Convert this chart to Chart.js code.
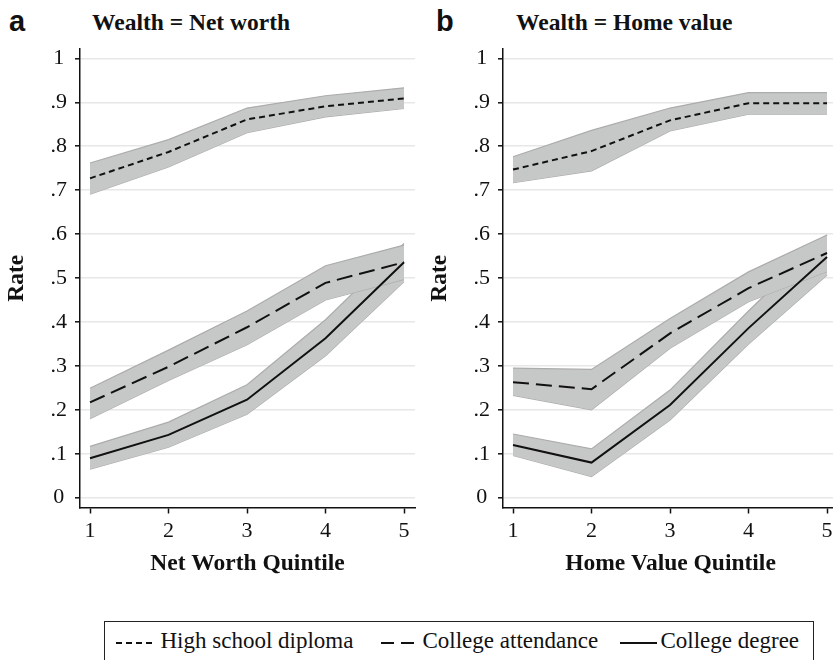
<!DOCTYPE html>
<html>
<head>
<meta charset="utf-8">
<script src="https://cdn.jsdelivr.net/npm/chart.js@4.4.1/dist/chart.umd.min.js"></script>
<style>
  html, body { margin: 0; padding: 0; background: #fff; }
  body { position: relative; width: 833px; height: 660px; overflow: hidden; }
  .tag { position: absolute; top: 7px; font: bold 29px/29px "Liberation Sans", Arial, sans-serif; color: #111; }
  .ttl { position: absolute; top: 11px; font: bold 23.5px/23.5px "Liberation Serif", "Times New Roman", serif; color: #111; white-space: nowrap; }
  canvas { position: absolute; top: 0; }
  .legend { position: absolute; left: 104px; top: 621px; width: 710px; height: 70px; border: 1.5px solid #222; box-sizing: border-box; }
  .legend svg { position: absolute; display: block; }
  .item { position: absolute; top: 0; font: 23px/23px "Liberation Serif", "Times New Roman", serif; color: #111; white-space: nowrap; }
</style>
</head>
<body>
<div class="tag" style="left:9px">a</div>
<div class="ttl" style="left:92px">Wealth = Net worth</div>
<div class="tag" style="left:436px">b</div>
<div class="ttl" style="left:516px">Wealth = Home value</div>

<canvas id="panelA" width="420" height="600" style="left:0px"></canvas>
<canvas id="panelB" width="420" height="600" style="left:423px"></canvas>

<div class="legend" id="legend"></div>

<script>
// Wealth quintiles on the horizontal axis
const quintiles = [1, 2, 3, 4, 5];
const yTickValues = [0, 0.1, 0.2, 0.3, 0.4, 0.5, 0.6, 0.7, 0.8, 0.9, 1];
const yTickLabels = ['0', '.1', '.2', '.3', '.4', '.5', '.6', '.7', '.8', '.9', '1'];
const seriesNames = ['High school diploma', 'College attendance', 'College degree'];

// Panel a: wealth measured as net worth (point estimate, lower and upper bound)
const nwHighSchool   = [0.727, 0.787, 0.861, 0.891, 0.909];
const nwHighSchoolLo = [0.691, 0.753, 0.831, 0.867, 0.886];
const nwHighSchoolHi = [0.762, 0.815, 0.887, 0.915, 0.933];
const nwAttend       = [0.217, 0.298, 0.388, 0.489, 0.536];
const nwAttendLo     = [0.180, 0.267, 0.348, 0.450, 0.497];
const nwAttendHi     = [0.249, 0.336, 0.425, 0.528, 0.575];
const nwDegree       = [0.090, 0.143, 0.223, 0.363, 0.536];
const nwDegreeLo     = [0.065, 0.115, 0.190, 0.323, 0.492];
const nwDegreeHi     = [0.117, 0.172, 0.257, 0.405, 0.579];

// Panel b: wealth measured as home value
const hvHighSchool   = [0.747, 0.789, 0.859, 0.898, 0.898];
const hvHighSchoolLo = [0.717, 0.744, 0.835, 0.873, 0.873];
const hvHighSchoolHi = [0.776, 0.836, 0.887, 0.922, 0.922];
const hvAttend       = [0.263, 0.247, 0.374, 0.477, 0.557];
const hvAttendLo     = [0.233, 0.200, 0.340, 0.446, 0.515];
const hvAttendHi     = [0.295, 0.292, 0.408, 0.514, 0.598];
const hvDegree       = [0.120, 0.080, 0.211, 0.386, 0.548];
const hvDegreeLo     = [0.096, 0.048, 0.177, 0.350, 0.507];
const hvDegreeHi     = [0.145, 0.111, 0.245, 0.425, 0.598];

const SERIF = '"Liberation Serif", "Times New Roman", serif';
const BAND_FILL = 'rgb(198,199,199)';
const BAND_EDGE = 'rgb(172,172,172)';
const INK = '#111';
const DASHES = [[6, 4], [16, 7], []];

const pts = (vals) => vals.map((v, i) => ({ x: quintiles[i], y: v }));

function bandPair(hi, lo) {
  return [
    { data: pts(hi), fill: '+1', backgroundColor: BAND_FILL, borderColor: BAND_EDGE,
      borderWidth: 1.2, pointRadius: 0, tension: 0, order: 5 },
    { data: pts(lo), fill: false, backgroundColor: BAND_FILL, borderColor: BAND_EDGE,
      borderWidth: 1.2, pointRadius: 0, tension: 0, order: 5 }
  ];
}

function estimateLine(vals, k) {
  return { label: seriesNames[k], data: pts(vals), fill: false, borderColor: INK,
           borderWidth: 2, borderDash: DASHES[k], pointRadius: 0, tension: 0, order: 0 };
}

function makePanel(id, xTitle, s) {
  const datasets = [
    ...bandPair(s.hsHi, s.hsLo),
    ...bandPair(s.atHi, s.atLo),
    ...bandPair(s.dgHi, s.dgLo),
    estimateLine(s.hs, 0),
    estimateLine(s.at, 1),
    estimateLine(s.dg, 2)
  ];
  return new Chart(document.getElementById(id), {
    type: 'line',
    data: { datasets },
    options: {
      responsive: false,
      animation: false,
      devicePixelRatio: 1,
      layout: { padding: { top: 49, right: 5, bottom: 0, left: 0 } },
      plugins: { legend: { display: false }, tooltip: { enabled: false } },
      scales: {
        x: {
          type: 'linear',
          min: 0.8726,
          max: 5.14,
          afterFit: (sc) => { sc.height = 92.5; },
          afterBuildTicks: (sc) => { sc.ticks = quintiles.map(v => ({ value: v })); },
          border: { display: true, color: INK, width: 1.5 },
          grid: { drawOnChartArea: false, drawTicks: true, tickLength: 6, tickColor: INK, tickWidth: 1.5 },
          ticks: { color: INK, font: { family: SERIF, size: 22 }, padding: 5,
                   maxRotation: 0, callback: (v) => String(v) },
          title: { display: true, text: xTitle, color: INK,
                   font: { family: SERIF, size: 23.5, weight: 'bold' },
                   padding: { top: 0, bottom: 22 } }
        },
        y: {
          type: 'linear',
          min: -0.0223,
          max: 1.0214,
          afterFit: (sc) => { sc.width = 80; },
          afterBuildTicks: (sc) => { sc.ticks = yTickValues.map(v => ({ value: v })); },
          border: { display: true, color: INK, width: 1.5 },
          grid: { color: '#e7e7e7', lineWidth: 1.6, drawTicks: true, tickLength: 5,
                  tickColor: INK, tickWidth: 1.5 },
          ticks: { color: INK, font: { family: SERIF, size: 22 }, padding: 8, crossAlign: 'center',
                   callback: (v, i) => yTickLabels[i] },
          title: { display: true, text: 'Rate', color: INK,
                   font: { family: SERIF, size: 23.5, weight: 'bold' },
                   padding: { top: 2.6, bottom: 0 } }
        }
      }
    }
  });
}

makePanel('panelA', 'Net Worth Quintile', {
  hs: nwHighSchool, hsLo: nwHighSchoolLo, hsHi: nwHighSchoolHi,
  at: nwAttend, atLo: nwAttendLo, atHi: nwAttendHi,
  dg: nwDegree, dgLo: nwDegreeLo, dgHi: nwDegreeHi
});
makePanel('panelB', 'Home Value Quintile', {
  hs: hvHighSchool, hsLo: hvHighSchoolLo, hsHi: hvHighSchoolHi,
  at: hvAttend, atLo: hvAttendLo, atHi: hvAttendHi,
  dg: hvDegree, dgLo: hvDegreeLo, dgHi: hvDegreeHi
});

// Shared legend below both panels: line sample plus label for each series
const legendLayout = [
  { sampleLeft: 116, sampleWidth: 39, textLeft: 161 },
  { sampleLeft: 381, sampleWidth: 34, textLeft: 423 },
  { sampleLeft: 620, sampleWidth: 37, textLeft: 661 }
];
const legendDash = ['6,4', '13,7', ''];
const legend = document.getElementById('legend');
const boxLeft = 105.5, boxTop = 622.5;
seriesNames.forEach((name, k) => {
  const L = legendLayout[k];
  const sample = document.createElementNS('http://www.w3.org/2000/svg', 'svg');
  sample.setAttribute('width', L.sampleWidth);
  sample.setAttribute('height', 6);
  sample.style.left = (L.sampleLeft - boxLeft) + 'px';
  sample.style.top = (643 - boxTop - 3) + 'px';
  const ln = document.createElementNS('http://www.w3.org/2000/svg', 'line');
  ln.setAttribute('x1', 0); ln.setAttribute('x2', L.sampleWidth);
  ln.setAttribute('y1', 3); ln.setAttribute('y2', 3);
  ln.setAttribute('stroke', INK); ln.setAttribute('stroke-width', 2);
  if (legendDash[k]) ln.setAttribute('stroke-dasharray', legendDash[k]);
  sample.appendChild(ln);
  legend.appendChild(sample);
  const t = document.createElement('div');
  t.className = 'item';
  t.textContent = name;
  t.style.left = (L.textLeft - boxLeft) + 'px';
  t.style.top = '7px';
  legend.appendChild(t);
});
</script>
</body>
</html>
